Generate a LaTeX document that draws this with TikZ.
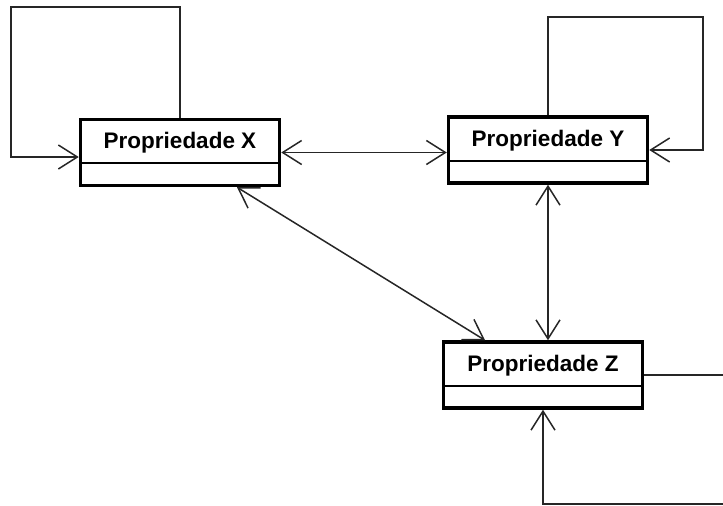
\documentclass[tikz,border=0pt]{standalone}
\usepackage{fontspec}
\setmainfont{Liberation Sans}
\usepackage{tikz}
\usetikzlibrary{arrows.meta}

\tikzset{
	propbox/.style={draw, line width=3.5pt, minimum width=199pt, minimum height=66pt, inner sep=0pt},
	proptitle/.style={anchor=north, minimum width=199pt, minimum height=45pt, inner sep=0pt, text depth=0pt, font=\fontsize{22.5}{26}\selectfont\bfseries},
	divider/.style={line width=1.8pt},
	assoc/.style={line width=1.5pt, color=black!85, {Straight Barb[length=19pt, width=24pt]}-{Straight Barb[length=19pt, width=24pt]}},
	selfloop/.style={line width=1.5pt, color=black!85, -{Straight Barb[length=19pt, width=24pt]}}
}

\begin{document}
\begin{tikzpicture}[x=1pt, y=-1pt]
			%%%%% START %%%%%
			\useasboundingbox (0, 0) rectangle (723, 506);
			
			\node[propbox] (px) at (180, 152.5) {};
			\node[proptitle] (pxt) at (px.north) {Propriedade X};
			\draw[divider] (pxt.south west) -- (pxt.south east);
			
			\node[propbox] (py) at (548, 150) {};
			\node[proptitle] (pyt) at (py.north) {Propriedade Y};
			\draw[divider] (pyt.south west) -- (pyt.south east);
			
			\node[propbox] (pz) at (543, 375) {};
			\node[proptitle] (pzt) at (pz.north) {Propriedade Z};
			\draw[divider] (pzt.south west) -- (pzt.south east);
			
			\draw[assoc] (px.east) -- (px.east -| py.west);
			\draw[assoc] (py.south) -- (py.south |- pz.north);
			\draw[assoc] ([xshift=57pt]px.south) -- ([xshift=-58pt]pz.north);
			
			\draw[selfloop] (px.north) |- (11, 7) |- ([yshift=-4.5pt]px.west);
			\draw[selfloop] (py.north) |- (703, 17) |- (py.east);
			\draw[selfloop] (pz.east) -| (740, 504) -| (pz.south);
			
			%%%%% END %%%%%
		\end{tikzpicture}
\end{document}
